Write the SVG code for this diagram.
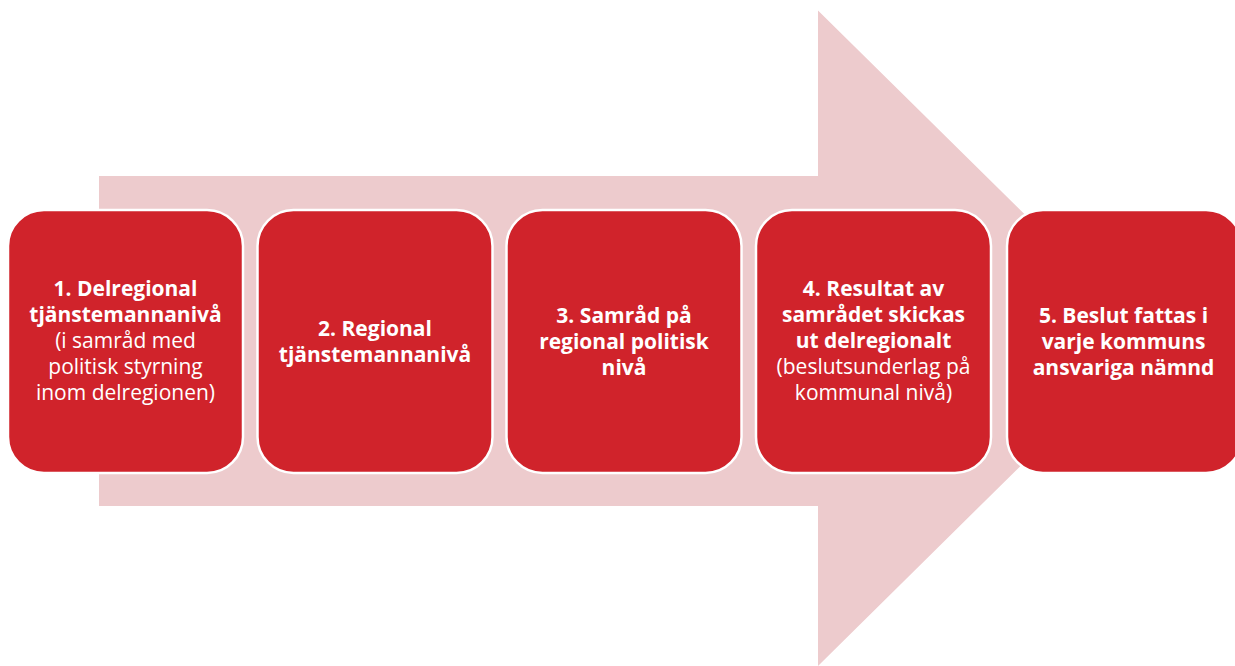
<svg xmlns="http://www.w3.org/2000/svg" width="1235" height="666" viewBox="0 0 1235 666">
<style>
.box{fill:#D0232B;stroke:#FFFFFF;stroke-width:2.5}
.t{font-family:"Open Sans","Noto Sans","Liberation Sans",sans-serif;font-size:21px;fill:#FFFFFF;text-anchor:middle}
.b{font-weight:700}
.r{font-weight:400}
</style>
<rect width="1235" height="666" fill="#FFFFFF"/>
<g id="arrow">
<polygon points="99,176 818,176 818,10.5 1150,338 818,666 818,506 99,506" fill="#EDCBCD"/>
</g>
<g id="connectors"></g>
<g id="node1">
<rect class="box" x="8" y="210" width="235" height="263" rx="36" ry="36"/>
<text class="t b" x="125.5" y="296">1. Delregional</text>
<text class="t b" x="125.5" y="322">tjänstemannanivå</text>
<text class="t r" x="125.5" y="348">(i samråd med</text>
<text class="t r" x="125.5" y="374">politisk styrning</text>
<text class="t r" x="125.5" y="400">inom delregionen)</text>
</g>
<g id="node2">
<rect class="box" x="257.5" y="210" width="235" height="263" rx="36" ry="36"/>
<text class="t b" x="375" y="336">2. Regional</text>
<text class="t b" x="375" y="362">tjänstemannanivå</text>
</g>
<g id="node3">
<rect class="box" x="506.5" y="210" width="235" height="263" rx="36" ry="36"/>
<text class="t b" x="624" y="323">3. Samråd på</text>
<text class="t b" x="624" y="349">regional politisk</text>
<text class="t b" x="624" y="375">nivå</text>
</g>
<g id="node4">
<rect class="box" x="756" y="210" width="235" height="263" rx="36" ry="36"/>
<text class="t b" x="873.5" y="296">4. Resultat av</text>
<text class="t b" x="873.5" y="322">samrådet skickas</text>
<text class="t b" x="873.5" y="348">ut delregionalt</text>
<text class="t r" x="873.5" y="374">(beslutsunderlag på</text>
<text class="t r" x="873.5" y="400">kommunal nivå)</text>
</g>
<g id="node5">
<rect class="box" x="1007" y="210" width="235" height="263" rx="36" ry="36"/>
<text class="t b" x="1123.5" y="323">5. Beslut fattas i</text>
<text class="t b" x="1123.5" y="349">varje kommuns</text>
<text class="t b" x="1123.5" y="375">ansvariga nämnd</text>
</g>
</svg>
